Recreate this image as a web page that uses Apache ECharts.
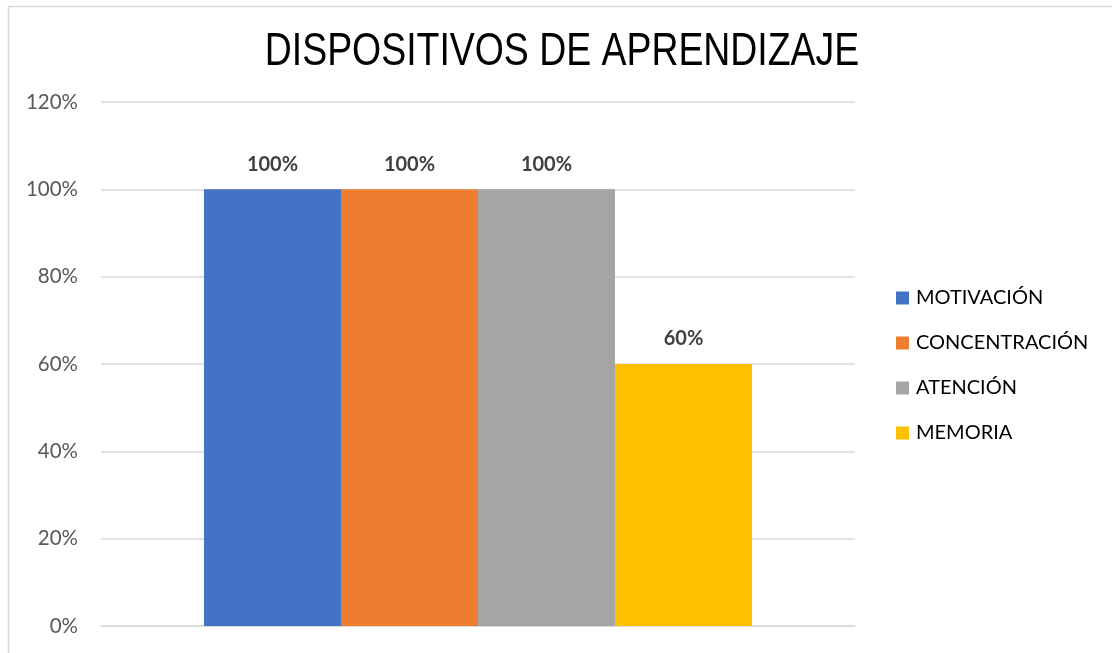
<!DOCTYPE html>
<html>
<head>
<meta charset="utf-8">
<script src="https://cdn.jsdelivr.net/npm/echarts@6/dist/echarts.min.js"></script>
<style>
  html, body { margin: 0; padding: 0; background: #fff; }
  #chart { width: 1112px; height: 653px; }
</style>
</head>
<body>
<div id="chart"></div>
<script>
// Learning devices: share of each dimension
const titleText = 'DISPOSITIVOS DE APRENDIZAJE';
const categories = [''];
const seriesNames = ['MOTIVACIÓN', 'CONCENTRACIÓN', 'ATENCIÓN', 'MEMORIA'];
const seriesValues = [1.0, 1.0, 1.0, 0.6];
const seriesColors = ['#4472C4', '#ED7D31', '#A5A5A5', '#FFC000'];
const yTicks = { min: 0, max: 1.2, interval: 0.2 };

const pct = v => Math.round(v * 100) + '%';
const labelFont = 'Lato, "Open Sans", "Noto Sans", sans-serif';

const chart = echarts.init(document.getElementById('chart'), null, { renderer: 'canvas' });

chart.setOption({
  animation: false,
  backgroundColor: '#ffffff',
  graphic: [
    {
      // outer frame
      type: 'rect',
      shape: { x: 8.5, y: 6.5, width: 1120, height: 700 },
      style: { fill: 'none', stroke: '#d9d9d9', lineWidth: 1.5 },
      silent: true,
      z: -1
    },
    {
      // condensed title
      type: 'text',
      x: 562,
      y: 52,
      scaleX: 0.813,
      style: {
        text: titleText,
        fontFamily: '"Liberation Sans", Arial, sans-serif',
        fontSize: 46,
        fill: '#000000',
        textAlign: 'center',
        textVerticalAlign: 'middle'
      },
      silent: true
    }
  ],
  legend: {
    orient: 'vertical',
    left: 896,
    top: 288,
    padding: 0,
    itemWidth: 13,
    itemHeight: 13,
    itemGap: 25,
    icon: 'rect',
    textStyle: {
      fontFamily: labelFont,
      fontSize: 20,
      lineHeight: 20,
      color: '#000000',
      padding: [0, 0, 0, 2]
    },
    data: seriesNames
  },
  grid: { left: 101, right: 257, top: 102, bottom: 27, containLabel: false },
  xAxis: {
    type: 'category',
    data: categories,
    axisLine: { show: true, lineStyle: { color: '#d9d9d9', width: 1.5 } },
    axisTick: { show: false },
    axisLabel: { show: false }
  },
  yAxis: {
    type: 'value',
    min: yTicks.min,
    max: yTicks.max,
    interval: yTicks.interval,
    axisLine: { show: false },
    axisTick: { show: false },
    splitLine: { lineStyle: { color: '#d9d9d9', width: 1.5 } },
    axisLabel: {
      formatter: pct,
      margin: 23,
      fontFamily: labelFont,
      fontSize: 20.5,
      color: '#595959'
    }
  },
  series: seriesNames.map((name, i) => ({
    name: name,
    type: 'bar',
    barWidth: 137,
    barGap: '0%',
    itemStyle: { color: seriesColors[i] },
    data: [seriesValues[i]],
    label: {
      show: true,
      position: 'top',
      distance: 15,
      formatter: p => pct(p.value),
      fontFamily: labelFont,
      fontSize: 20,
      fontWeight: 'bold',
      color: '#404040'
    }
  }))
});
</script>
</body>
</html>
